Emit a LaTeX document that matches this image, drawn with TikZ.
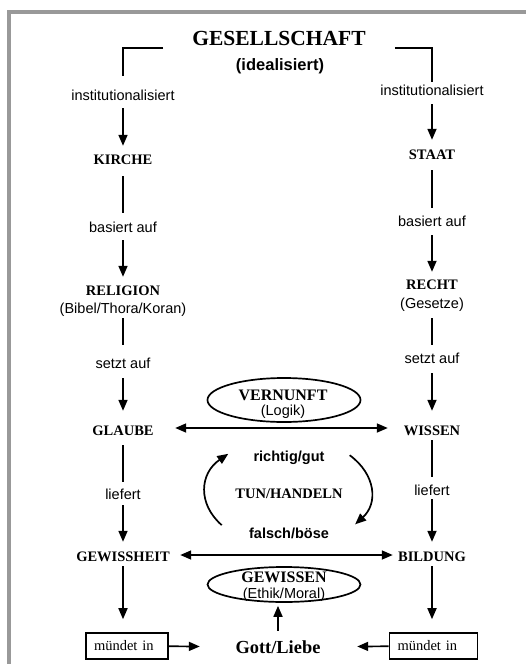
\documentclass[tikz,border=0pt]{standalone}
\usepackage{fontspec}
\setmainfont{Liberation Serif}
\setsansfont{Liberation Sans}
\usetikzlibrary{arrows.meta,shapes.geometric}
\definecolor{framegray}{RGB}{153,153,153}
\begin{document}
\begin{tikzpicture}[x=1pt,y=-1pt,
  captxt/.style={font=\fontsize{14.5}{17}\selectfont\bfseries, inner sep=0pt, text height=9.6pt, text depth=0pt},
  labtxt/.style={font=\fontsize{14.5}{17}\selectfont\sffamily, inner sep=0pt, text height=10.4pt, text depth=0pt},
  labbold/.style={labtxt, font=\fontsize{14.5}{17}\selectfont\sffamily\bfseries},
  ovaltitle/.style={font=\fontsize{16}{18}\selectfont\bfseries, inner sep=0pt, text height=10.6pt, text depth=0pt},
  ln/.style={line width=1.7pt},
  arr/.style={ln, -{Triangle[length=11pt,width=9pt]}},
  darr/.style={ln, {Triangle[length=11pt,width=9pt]}-{Triangle[length=11pt,width=9pt]}},
  oval/.style={draw, ellipse, line width=1.7pt, inner sep=0pt, minimum width=153pt},
  mbox/.style={draw, line width=1.6pt, font=\fontsize{14.5}{17}\selectfont, minimum height=26pt, inner xsep=8pt, inner ysep=0pt, align=left, text height=9.9pt, text depth=0pt}
]
\useasboundingbox (0,0) rectangle (525,664);
\fill[white] (0,0) rectangle (525,664);
\draw[line width=4pt, framegray] (530,11.5) -- (9,11.5) -- (9,670);

% title
\node[font=\fontsize{21.5}{24}\selectfont\bfseries, inner sep=0pt, text height=14.2pt, text depth=0pt] (ges) at (279,38) {GESELLSCHAFT};
\node[font=\fontsize{16.5}{19}\selectfont\sffamily\bfseries, inner sep=0pt] (ideal) at (280,66) {(idealisiert)};

% left column
\node[labtxt] (instL) at (123,95) {institutionalisiert};
\node[captxt] (kirche) at (123,160) {KIRCHE};
\node[labtxt] (basL) at (123,227) {basiert auf};
\node[captxt] (relig) at (123,291) {RELIGION};
\node[labtxt] (religsub) at (123,308) {(Bibel/Thora/Koran)};
\node[labtxt] (setztL) at (123,363) {setzt auf};
\node[captxt] (glaube) at (123,431) {GLAUBE};
\node[labtxt] (liefL) at (123,494) {liefert};
\node[captxt] (gewh) at (123,557) {GEWISSHEIT};
\node[mbox, text width=66pt] (boxL) at (127,646) {mündet in};

% right column
\node[labtxt] (instR) at (432,90) {institutionalisiert};
\node[captxt] (staat) at (432,155) {STAAT};
\node[labtxt] (basR) at (432,221) {basiert auf};
\node[captxt] (recht) at (432,285) {RECHT};
\node[labtxt] (rechtsub) at (432,303) {(Gesetze)};
\node[labtxt] (setztR) at (432,358) {setzt auf};
\node[captxt] (wissen) at (432,431) {WISSEN};
\node[labtxt] (liefR) at (432,490) {liefert};
\node[captxt] (bild) at (432,557) {BILDUNG};
\node[mbox, text width=72pt] (boxR) at (433.5,646) {mündet in};

% centre
\node[oval, minimum height=44pt] (vernE) at (284,400) {};
\node[ovaltitle] (vern) at (283,395) {VERNUNFT};
\node[labtxt] (logik) at (283,410) {(Logik)};
\node[labbold] (richtig) at (289,456) {richtig/gut};
\node[captxt] (tun) at (289,494) {TUN/HANDELN};
\node[labbold] (falsch) at (289,533) {falsch/böse};
\coordinate (ctr) at (288,492);
\node[oval, minimum height=35pt] (gewE) at (284,584.5) {};
\node[ovaltitle] (gew) at (284,577) {GEWISSEN};
\node[labtxt] (ethik) at (284,593) {(Ethik/Moral)};
\node[font=\fontsize{18.4}{20}\selectfont\bfseries, inner sep=0pt, text height=12.4pt, text depth=0pt] (gott) at (278,647) {Gott/Liebe};

% brackets
\draw[ln, shorten >=14pt] ([xshift=-29pt,yshift=-10pt]ges.west) -| (instL);
\draw[ln, shorten >=2.5pt] ([xshift=29pt,yshift=-10pt]ges.east) -| (instR);

% left chain
\draw[arr, shorten <=7.8pt, shorten >=9.2pt] (instL) -- (kirche);
\draw[ln, shorten <=11.2pt, shorten >=8.8pt] (kirche) -- (basL);
\draw[arr, shorten <=7.8pt, shorten >=9.2pt] (basL) -- (relig);
\draw[ln, shorten <=4.8pt, shorten >=12.8pt] (religsub) -- (setztL);
\draw[arr, shorten <=9.8pt, shorten >=15.2pt] (setztL) -- (glaube);
\draw[ln, shorten <=9.2pt, shorten >=6.8pt] (glaube) -- (liefL);
\draw[arr, shorten <=5.8pt, shorten >=10.2pt] (liefL) -- (gewh);
\draw[arr, shorten <=4.2pt, shorten >=13pt] (gewh) -- (gewh |- boxL.north);

% right chain
\draw[arr, shorten <=8.8pt, shorten >=10.2pt] (instR) -- (staat);
\draw[ln, shorten <=10.2pt, shorten >=7.8pt] (staat) -- (basR);
\draw[arr, shorten <=8.8pt, shorten >=8.2pt] (basR) -- (recht);
\draw[ln, shorten <=9.8pt, shorten >=7.8pt] (rechtsub) -- (setztR);
\draw[arr, shorten <=9.8pt, shorten >=15.2pt] (setztR) -- (wissen);
\draw[ln, shorten <=4.2pt, shorten >=7.8pt] (wissen) -- (liefR);
\draw[arr, shorten <=3.8pt, shorten >=10.2pt] (liefR) -- (bild);
\draw[arr, shorten <=4.2pt, shorten >=13pt] (bild) -- (bild |- boxR.north);

% horizontals
\draw[darr, shorten <=21.4pt, shorten >=15.8pt] ([yshift=3pt]glaube.east) -- ([yshift=3pt]wissen.west);
\draw[darr, shorten <=10.3pt, shorten >=5.2pt] ([yshift=2pt]gewh.east) -- ([yshift=2pt]bild.west);

% cycle
\draw[arr] ([shift={(217:83pt and 55pt)}]ctr) arc[start angle=217, end angle=136, x radius=83pt, y radius=55pt];
\draw[arr] ([shift={(42:83pt and 55pt)}]ctr) arc[start angle=42, end angle=-36, x radius=83pt, y radius=55pt];

% bottom
\draw[arr, shorten >=35.6pt] (boxL) -- (gott);
\draw[arr, shorten >=36.6pt] (boxR) -- (gott);
\draw[arr, shorten <=9.7pt, shorten >=3pt] (gott) -- (gott |- gewE.south);
\end{tikzpicture}
\end{document}
